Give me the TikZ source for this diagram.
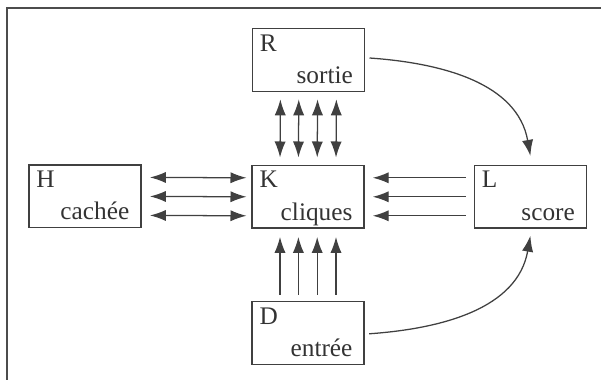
\documentclass[tikz,border=0pt]{standalone}
\usepackage{fontspec}
\setmainfont{Liberation Serif}
\usetikzlibrary{arrows.meta}

\tikzset{
  boite/.style={draw=black!75, line width=1pt, minimum width=2.8cm, minimum height=1.57cm, inner sep=0pt},
  lettre/.style={anchor=base west, inner sep=0pt, text=black!80},
  mot/.style={anchor=base east, inner sep=0pt, text=black!80},
  fleche/.style={draw=black!75, line width=0.9pt, -{Latex[length=4mm,width=2.8mm]}},
  dfleche/.style={draw=black!75, line width=0.9pt, {Latex[length=4mm,width=2.8mm]}-{Latex[length=4mm,width=2.8mm]}}
}

\begin{document}
\begin{tikzpicture}[font=\fontsize{18}{20}\selectfont]

\useasboundingbox (0,0) rectangle (15.025,9.5);
\draw[black!70, line width=1.5pt] (0.18,0) -- (0.18,9.29) -- (15.025,9.29);

% boites
\foreach \n/\x/\y in {R/7.71/8.0, H/2.12/4.59, K/7.70/4.58, L/13.26/4.58, D/7.70/1.175}{
  \node[boite] (\n) at (\x,\y) {};
}

% textes
\foreach \n/\m in {R/sortie, H/cachée, K/cliques, L/score, D/entrée}{
  \node[lettre] (\n-lettre) at ([shift={(0.2,-0.58)}]\n.north west) {\n};
  \node[mot] (\n-mot) at ([shift={(-0.3,0.22)}]\n.south east) {\m};
}

% fleches verticales
\foreach \dx in {-0.7,-0.24,0.23,0.7}{
  \draw[dfleche, shorten <=0.18cm, shorten >=0.18cm] ([xshift=\dx cm]R.south) -- ([xshift=\dx cm]K.north);
  \draw[fleche, shorten <=0.15cm, shorten >=0.2cm] ([xshift=\dx cm]D.north) -- ([xshift=\dx cm]K.south);
}

% fleches horizontales
\foreach \dy in {0.475,0,-0.475}{
  \draw[dfleche, shorten <=0.21cm, shorten >=0.12cm] ([yshift=\dy cm]H.east) -- ([yshift=\dy cm]K.west);
  \draw[fleche, shorten <=0.2cm, shorten >=0.2cm] ([yshift=\dy cm]L.west) -- ([yshift=\dy cm]K.east);
}

% courbes vers le score
\draw[fleche] ([shift={(0.11,0.05)}]R.east) to[out=-4,in=100] ([yshift=0.22cm]L.north);
\draw[fleche] ([shift={(0.11,-0.02)}]D.east) to[out=4,in=-100] ([yshift=-0.17cm]L.south);

\end{tikzpicture}
\end{document}
